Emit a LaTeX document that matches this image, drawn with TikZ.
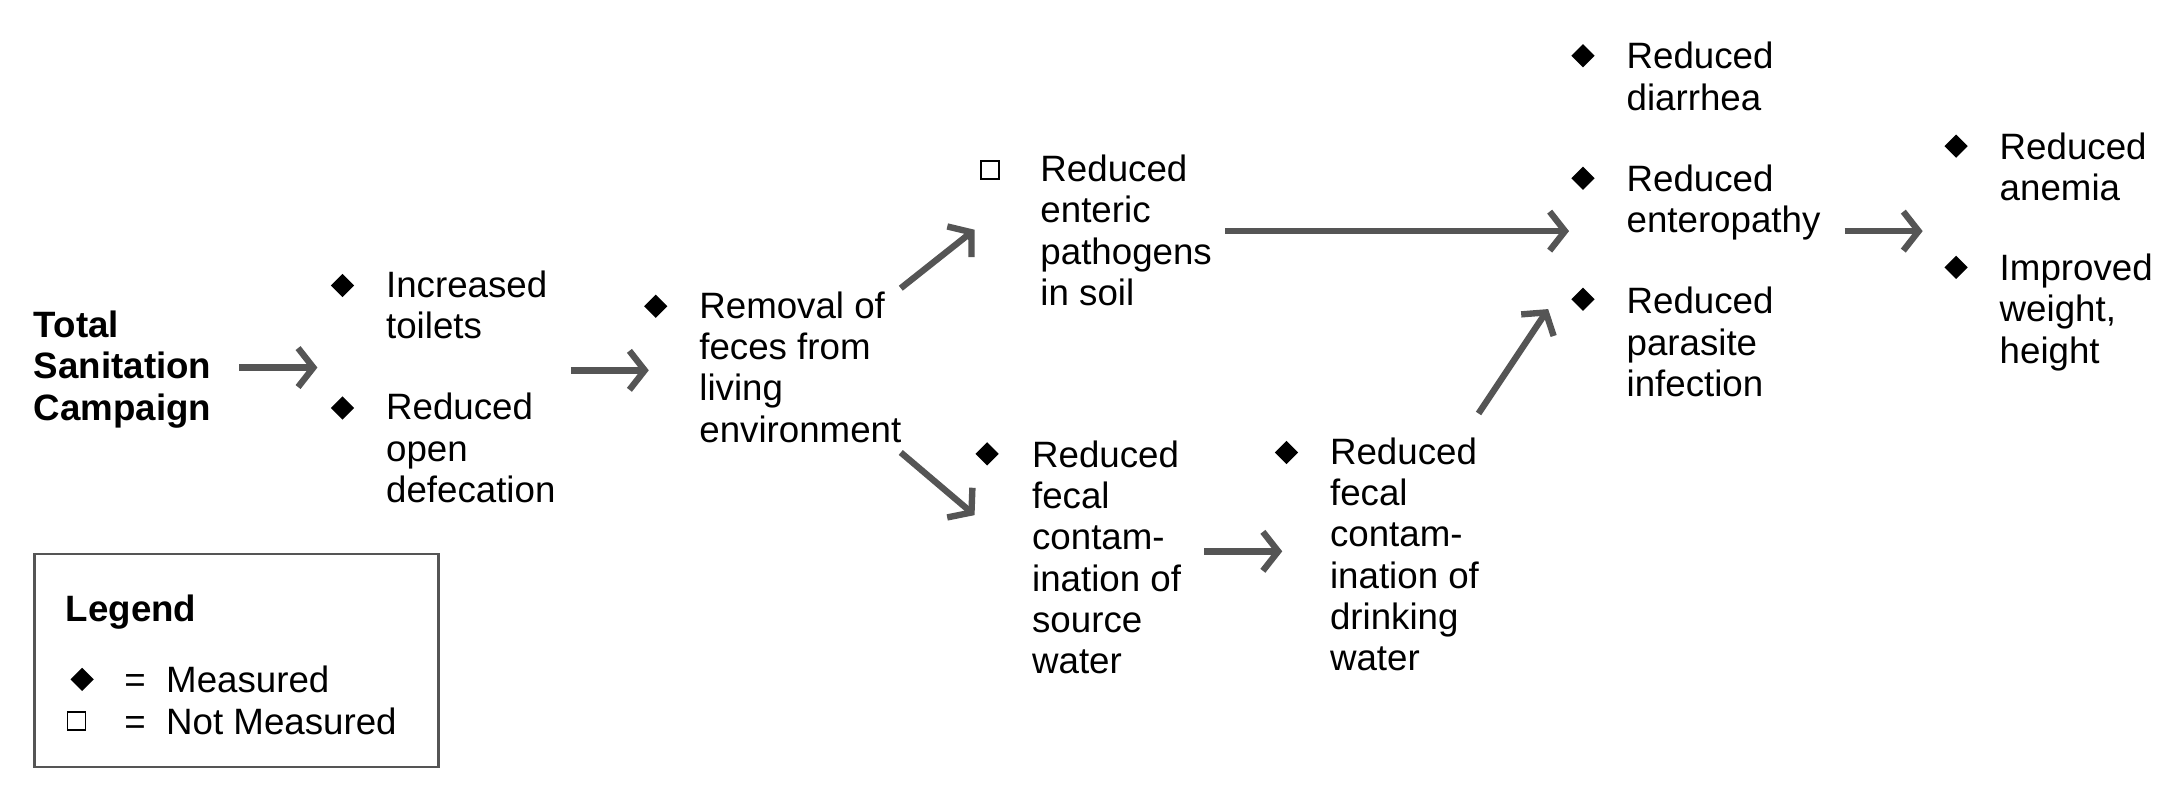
\documentclass[tikz,border=0pt]{standalone}
\usepackage{fontspec}
\setmainfont{Liberation Sans}
\usetikzlibrary{arrows.meta,shapes.geometric}
\begin{document}
\begin{tikzpicture}[x=0.02cm,y=-0.02cm,
 txt/.style={anchor=north west,align=left,inner sep=0pt,font=\fontsize{15pt}{16.9pt}\selectfont},
 dia/.style={diamond,fill=black,inner sep=0pt,minimum size=0.34cm},
 sq/.style={draw=black,line width=0.6pt,inner sep=0pt,minimum size=0.26cm},
 arr/.style={draw={rgb,255:red,85;green,85;blue,85},line width=2.6pt,-{Straight Barb[length=0.22cm,width=0.56cm,line width=2.6pt]}}]
\useasboundingbox (0,0) rectangle (1568,575);
\node[txt,font=\fontsize{15pt}{16.9pt}\selectfont\bfseries] (tsc) at (24,223) {Total\\Sanitation\\Campaign};
\node[dia] (d1) at (246,205) {}; \node[txt] (t1) at (277,194) {Increased\\toilets};
\node[dia] (d2) at (246,293) {}; \node[txt] (t2) at (277,282) {Reduced\\open\\defecation};
\node[dia] (d3) at (471,220) {}; \node[txt] (t3) at (502,209) {Removal of\\feces from\\living\\environment};
\node[sq] (s4) at (711,122) {}; \node[txt] (t4) at (747,111) {Reduced\\enteric\\pathogens\\in soil};
\node[dia] (d5) at (709,326) {}; \node[txt] (t5) at (741,316) {Reduced\\fecal\\contam-\\ination of\\source\\water};
\node[dia] (d6) at (924,325) {}; \node[txt] (t6) at (955,314) {Reduced\\fecal\\contam-\\ination of\\drinking\\water};
\node[dia] (d7) at (1137,40) {}; \node[txt] (t7) at (1168,30) {Reduced\\diarrhea};
\node[dia] (d8) at (1137,128) {}; \node[txt] (t8) at (1168,118) {Reduced\\enteropathy};
\node[dia] (d9) at (1137,215) {}; \node[txt] (t9) at (1168,206) {Reduced\\parasite\\infection};
\node[dia] (d10) at (1405,105) {}; \node[txt] (t10) at (1436,95) {Reduced\\anemia};
\node[dia] (d11) at (1405,192) {}; \node[txt] (t11) at (1436,182) {Improved\\weight,\\height};
\coordinate (a1s) at (172,264); \coordinate (a1e) at (228,264);
\coordinate (a2s) at (410,266); \coordinate (a2e) at (466,266);
\coordinate (a3s) at (647,207); \coordinate (a3e) at (700,165);
\coordinate (a4s) at (647,325); \coordinate (a4e) at (700,370);
\coordinate (a5s) at (880,166); \coordinate (a5e) at (1127,166);
\coordinate (a6s) at (865,396); \coordinate (a6e) at (921,396);
\coordinate (a7s) at (1062,297); \coordinate (a7e) at (1112,222);
\coordinate (a8s) at (1325,166); \coordinate (a8e) at (1381,166);
\foreach \i in {1,...,8} \draw[arr] (a\i s) -- (a\i e);
\node[draw={rgb,255:red,85;green,85;blue,85},line width=1pt,minimum width=290*0.02cm,minimum height=153*0.02cm,anchor=north west] (leg) at (24,397) {};
\node[txt,font=\fontsize{15pt}{16.9pt}\selectfont\bfseries] (lt) at (47,427) {Legend};
\node[dia] (ld) at (59,488) {}; \node[txt] (l1) at (89,478) {=\ \ Measured};
\node[sq] (ls) at (55,518) {}; \node[txt] (l2) at (89,508) {=\ \ Not Measured};
\end{tikzpicture}
\end{document}
